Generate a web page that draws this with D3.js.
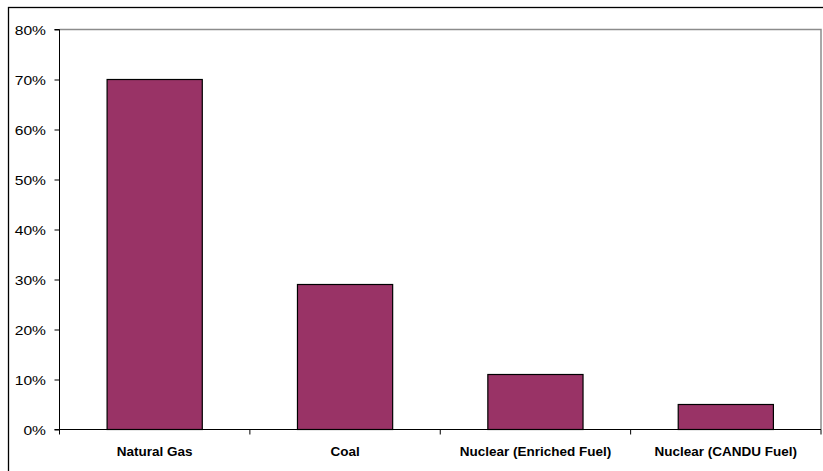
<!DOCTYPE html>
<html>
<head>
<meta charset="utf-8">
<script src="https://cdn.jsdelivr.net/npm/d3@7"></script>
<style>
  html, body { margin: 0; padding: 0; background: #fff; }
  svg { display: block; }
</style>
</head>
<body>
<svg id="chart" width="823" height="471"></svg>
<script>
// Share by fuel source
const categories = ["Natural Gas", "Coal", "Nuclear (Enriched Fuel)", "Nuclear (CANDU Fuel)"];
const shares = [0.70, 0.29, 0.11, 0.05];
const yTicks = [0, 0.1, 0.2, 0.3, 0.4, 0.5, 0.6, 0.7, 0.8];

const svg = d3.select("#chart");
const W = 823, H = 471;
const plot = { left: 59.5, right: 821, top: 29.5, bottom: 429.5 };
const FONT = "Liberation Sans, Arial, sans-serif";

// Outer chart frame
svg.append("rect")
  .attr("x", 8.5).attr("y", 7.5)
  .attr("width", W + 10).attr("height", H + 10)
  .attr("fill", "none").attr("stroke", "#000").attr("stroke-width", 1.3);

const x = d3.scaleBand()
  .domain(categories)
  .range([plot.left, plot.right])
  .paddingInner(0.5)
  .paddingOuter(0.25);

const y = d3.scaleLinear().domain([0, 0.8]).range([plot.bottom, plot.top]);

// Plot area border (top and right)
svg.append("path")
  .attr("d", `M${plot.left},${plot.top}H${plot.right}V${plot.bottom}`)
  .attr("fill", "none").attr("stroke", "#8c8c8c").attr("stroke-width", 1.5);

// Bars
svg.append("g").selectAll("rect")
  .data(categories)
  .join("rect")
  .attr("x", d => x(d))
  .attr("y", (d, i) => y(shares[i]))
  .attr("width", x.bandwidth())
  .attr("height", (d, i) => y(0) - y(shares[i]))
  .attr("fill", "#993366")
  .attr("stroke", "#000")
  .attr("stroke-width", 1.2);

// Y axis
const yAxis = d3.axisLeft(y)
  .tickValues(yTicks)
  .tickFormat(d3.format(".0%"))
  .tickSize(5)
  .tickPadding(8);
const gy = svg.append("g")
  .attr("transform", `translate(${plot.left},0)`)
  .call(yAxis);
gy.select(".domain").attr("stroke", "#000").attr("d", `M-5,${plot.top}H0V${plot.bottom}H-5`);
gy.selectAll(".tick line").attr("stroke", "#000");
gy.selectAll("text")
  .attr("x", 0)
  .attr("dy", "0.4em")
  .attr("transform", "translate(-13.5,0) scale(1.25,1)")
  .attr("font-family", FONT)
  .attr("font-size", 12.5)
  .attr("fill", "#000");

// X axis: ticks at category boundaries
const boundaries = d3.range(categories.length + 1).map(i => plot.left + i * (plot.right - plot.left) / categories.length);
const gx = svg.append("g");
gx.append("line")
  .attr("x1", plot.left).attr("x2", plot.right)
  .attr("y1", plot.bottom).attr("y2", plot.bottom)
  .attr("stroke", "#000").attr("stroke-width", 1);
gx.selectAll("line.tick")
  .data(boundaries)
  .join("line")
  .attr("class", "tick")
  .attr("x1", d => d).attr("x2", d => d)
  .attr("y1", plot.bottom).attr("y2", plot.bottom + 5)
  .attr("stroke", "#000");
gx.selectAll("text")
  .data(categories)
  .join("text")
  .attr("x", d => x(d) + x.bandwidth() / 2)
  .attr("y", 456)
  .attr("text-anchor", "middle")
  .attr("font-family", FONT)
  .attr("font-weight", "bold")
  .attr("font-size", 13.5)
  .attr("fill", "#000")
  .text(d => d);
</script>
</body>
</html>
